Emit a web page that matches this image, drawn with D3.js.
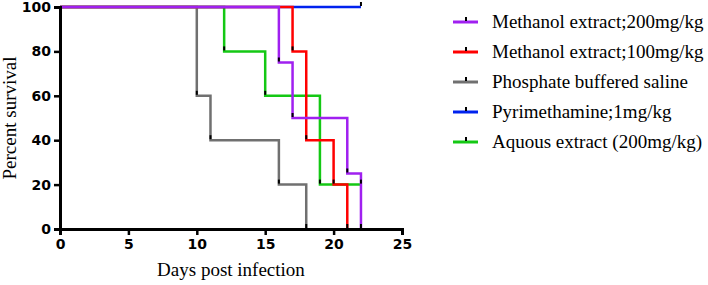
<!DOCTYPE html>
<html>
<head>
<meta charset="utf-8">
<script src="https://cdn.jsdelivr.net/npm/d3@7"></script>
<style>
  body { margin: 0; background: #fff; }
  svg { display: block; }
</style>
</head>
<body>
<svg id="chart" width="708" height="285"></svg>
<script>
// Kaplan-Meier style survival curves (day of event, percent surviving after it)
const seriesNames = [
  "Methanol extract;200mg/kg",
  "Methanol extract;100mg/kg",
  "Phosphate buffered saline",
  "Pyrimethamine;1mg/kg",
  "Aquous extract (200mg/kg)"
];
const seriesColors = ["#a020f0", "#ff0000", "#707070", "#0022ee", "#14c814"];

const methanol200Days = [0, 16, 17, 21, 22];
const methanol200Surv = [100, 75, 50, 25, 0];
const methanol100Days = [0, 17, 18, 20, 21];
const methanol100Surv = [100, 80, 40, 20, 0];
const pbsDays = [0, 10, 11, 16, 18];
const pbsSurv = [100, 60, 40, 20, 0];
const pyrDays = [0, 22];
const pyrSurv = [100, 100];
const aqueousDays = [0, 12, 15, 19, 22];
const aqueousSurv = [100, 80, 60, 20, 20];

const xTicks = [0, 5, 10, 15, 20, 25];
const yTicks = [0, 20, 40, 60, 80, 100];

const allDays = [methanol200Days, methanol100Days, pbsDays, pyrDays, aqueousDays];
const allSurv = [methanol200Surv, methanol100Surv, pbsSurv, pyrSurv, aqueousSurv];

const series = seriesNames.map((name, i) => ({
  name: name,
  color: seriesColors[i],
  values: allDays[i].map((d, j) => ({ day: d, surv: allSurv[i][j] }))
}));

const svg = d3.select("#chart");

// SCALES
const x = d3.scaleLinear().domain([0, 25]).range([60, 402]);
const y = d3.scaleLinear().domain([0, 100]).range([229, 7]);

const line = d3.line()
  .curve(d3.curveStepAfter)
  .x(d => x(d.day))
  .y(d => y(d.surv));

// draw bottom-most first so purple ends up on top
const drawOrder = [4, 3, 2, 1, 0];
const curves = svg.append("g");
drawOrder.forEach(i => {
  const s = series[i];
  curves.append("path")
    .datum(s.values)
    .attr("fill", "none")
    .attr("stroke", s.color)
    .attr("stroke-width", 2.5)
    .attr("d", line);
});

// little black event marks at each step
drawOrder.forEach(i => {
  const s = series[i];
  curves.selectAll(null)
    .data(s.values.slice(1))
    .join("line")
    .attr("x1", d => x(d.day))
    .attr("x2", d => x(d.day))
    .attr("y1", d => y(d.surv) - 1)
    .attr("y2", d => y(d.surv) - 5)
    .attr("stroke", "#000")
    .attr("stroke-width", 2);
});

// AXES
const xAxis = svg.append("g")
  .attr("transform", `translate(0, ${y(0)})`)
  .call(d3.axisBottom(x).tickValues(xTicks).tickSize(6).tickPadding(4));

const yAxis = svg.append("g")
  .attr("transform", `translate(${x(0)}, 0)`)
  .call(d3.axisLeft(y).tickValues(yTicks).tickSize(6).tickPadding(3));

[xAxis, yAxis].forEach(g => {
  g.select(".domain").attr("stroke", "#000").attr("stroke-width", 3);
  g.selectAll(".tick line").attr("stroke", "#000").attr("stroke-width", 2.5);
  g.selectAll(".tick text")
    .attr("fill", "#000")
    .style("font-family", "'DejaVu Sans', sans-serif")
    .style("font-weight", "bold")
    .style("font-size", "14px");
});

// AXIS TITLES
svg.append("text")
  .attr("x", 231)
  .attr("y", 276)
  .attr("text-anchor", "middle")
  .style("font-family", "'Liberation Serif', 'Times New Roman', serif")
  .style("font-size", "19px")
  .text("Days post infection");

svg.append("text")
  .attr("transform", "translate(16, 118) rotate(-90)")
  .attr("text-anchor", "middle")
  .style("font-family", "'Liberation Serif', 'Times New Roman', serif")
  .style("font-size", "19px")
  .text("Percent survival");

// LEGEND
const legend = svg.append("g");
const legendY = d3.scalePoint().domain(seriesNames).range([22, 142]);

const item = legend.selectAll("g")
  .data(series)
  .join("g")
  .attr("transform", d => `translate(0, ${legendY(d.name)})`);

item.append("line")
  .attr("x1", 453).attr("x2", 478)
  .attr("y1", 0).attr("y2", 0)
  .attr("stroke", d => d.color)
  .attr("stroke-width", 3);

item.append("line")
  .attr("x1", 466).attr("x2", 466)
  .attr("y1", -1).attr("y2", -5)
  .attr("stroke", "#000")
  .attr("stroke-width", 2);

item.append("text")
  .attr("x", 492)
  .attr("y", 6)
  .style("font-family", "'Liberation Serif', 'Times New Roman', serif")
  .style("font-size", "19px")
  .text(d => d.name);
</script>
</body>
</html>
